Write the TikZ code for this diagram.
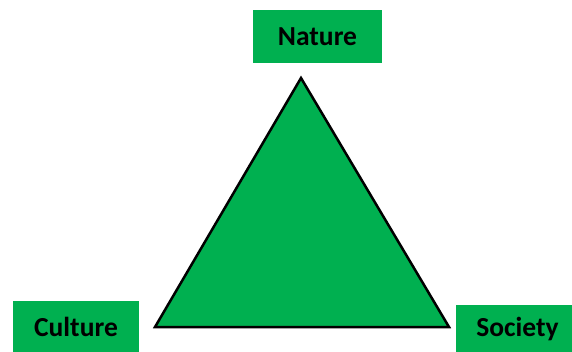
\documentclass[tikz,border=0pt]{standalone}
\usepackage{fontspec}
\setmainfont{Carlito}
\definecolor{boxgreen}{HTML}{00B050}
\begin{document}
\begin{tikzpicture}[x=1pt,y=-1pt,
  labelbox/.style={fill=boxgreen,draw=none,inner sep=0pt,font=\fontsize{27.5}{32}\selectfont\bfseries,text=black},
  tri/.style={fill=boxgreen,draw=black,line width=2.5pt,line join=miter}]
\useasboundingbox (0,0) rectangle (572,352);
\coordinate (apex) at (301,78);
\coordinate (bl) at (155,327);
\coordinate (br) at (449,327);
\draw[tri] (apex) -- (br) -- (bl) -- cycle;
\node[labelbox,minimum width=129pt,minimum height=53pt] (nature) at (317.5,36.5) {Nature};
\node[labelbox,minimum width=126pt,minimum height=52pt] (culture) at (76,326.5) {Culture};
\node[labelbox,minimum width=116pt,minimum height=48pt,text width=116pt,align=center] (society) at (514,329) {\hspace*{7pt}Society};
\end{tikzpicture}
\end{document}
